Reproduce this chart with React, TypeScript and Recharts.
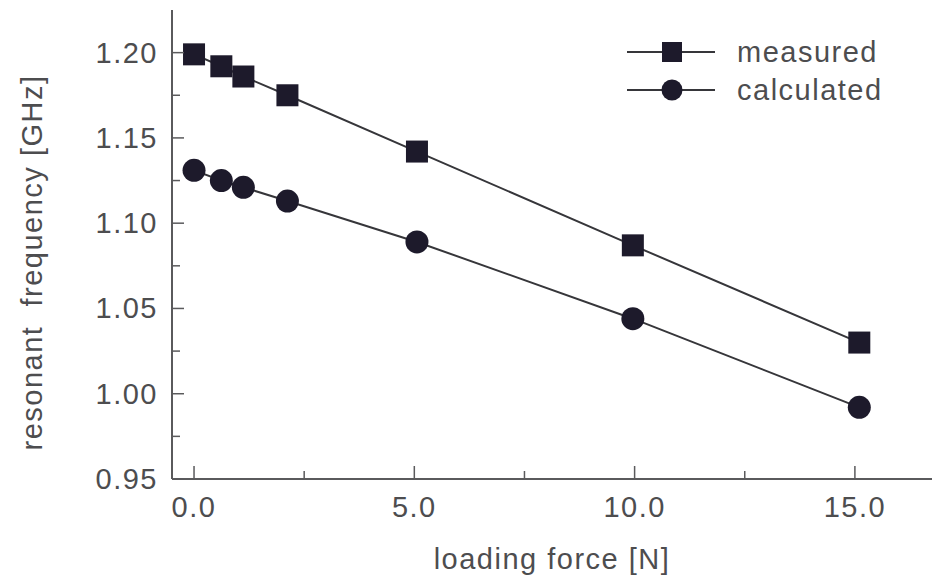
import { Legend, Line, LineChart, XAxis, YAxis } from 'recharts'

const loadingForce = [0, 0.62, 1.12, 2.12, 5.06, 9.96, 15.1]
const measured = [1.199, 1.192, 1.186, 1.175, 1.142, 1.087, 1.03]
const calculated = [1.131, 1.125, 1.121, 1.113, 1.089, 1.044, 0.992]

const forceTicks = [0, 2.5, 5, 7.5, 10, 12.5, 15]
const freqTicks = [0.95, 0.975, 1.0, 1.025, 1.05, 1.075, 1.1, 1.125, 1.15, 1.175, 1.2]

const seriesNames = ['measured', 'calculated']

const FONT = '"Liberation Sans", Arial, sans-serif'
const TEXT = '#4d4d4f'
const AXIS = '#5a5a5c'
const LINE = '#36363a'
const MARK = '#1d1a2b'

const chartData = loadingForce.map((f, i) => ({
  force: f,
  measured: measured[i],
  calculated: calculated[i],
}))

const isMajorX = (v: number) => Math.abs(v % 5) < 1e-6
const isMajorY = (v: number) => Math.abs(Math.round(v * 20) - v * 20) < 1e-6

const textStyle = { fontFamily: FONT, fontSize: 29, fill: TEXT, letterSpacing: 1.5 }

function BottomTick(props: any) {
  const { x, y, payload } = props
  const major = isMajorX(payload.value)
  return (
    <g>
      <line x1={x} x2={x} y1={y} y2={y - (major ? 13 : 8)} stroke={AXIS} strokeWidth={1.5} />
      {major && (
        <text x={x} y={y + 38} textAnchor="middle" {...textStyle}>
          {payload.value.toFixed(1)}
        </text>
      )}
    </g>
  )
}

function TopTick(props: any) {
  const { x, y, payload } = props
  const major = isMajorX(payload.value)
  return <line x1={x} x2={x} y1={y} y2={y + (major ? 13 : 8)} stroke={AXIS} strokeWidth={1.5} />
}

function LeftTick(props: any) {
  const { x, y, payload } = props
  const major = isMajorY(payload.value)
  return (
    <g>
      <line x1={x} x2={x + (major ? 12 : 8)} y1={y} y2={y} stroke={AXIS} strokeWidth={1.5} />
      {major && (
        <text x={x - 14} y={y + 10} textAnchor="end" {...textStyle}>
          {payload.value.toFixed(2)}
        </text>
      )}
    </g>
  )
}

function RightTick(props: any) {
  const { x, y, payload } = props
  const major = isMajorY(payload.value)
  return <line x1={x} x2={x - (major ? 12 : 8)} y1={y} y2={y} stroke={AXIS} strokeWidth={1.5} />
}

function SquareDot(props: any) {
  const { cx, cy } = props
  if (cx == null || cy == null) return null
  return <rect x={cx - 11} y={cy - 11} width={22} height={22} fill={MARK} />
}

function CircleDot(props: any) {
  const { cx, cy } = props
  if (cx == null || cy == null) return null
  return <circle cx={cx} cy={cy} r={11.5} fill={MARK} />
}

// legend drawn in series order, not the alphabetical order recharts hands over
function LegendBox() {
  return (
    <svg width={300} height={90}>
      {seriesNames.map((name, i) => {
        const cy = 22 + i * 38
        return (
          <g key={name}>
            <line x1={7} x2={95} y1={cy} y2={cy} stroke={LINE} strokeWidth={2} />
            {i === 0 ? (
              <rect x={42} y={cy - 10} width={20} height={20} fill={MARK} />
            ) : (
              <circle cx={52} cy={cy} r={10.5} fill={MARK} />
            )}
            <text x={117} y={cy + 10} {...textStyle}>
              {name}
            </text>
          </g>
        )
      })}
    </svg>
  )
}

export default function App() {
  return (
    <div style={{ position: 'absolute', left: 0, top: 0, width: 933, height: 581, background: '#fff' }}>
      <LineChart
        width={933}
        height={581}
        data={chartData}
        margin={{ top: 10, right: 1, bottom: 42, left: 72 }}
      >
        <XAxis
          dataKey="force"
          type="number"
          domain={[-0.5, 16.75]}
          ticks={forceTicks}
          allowDataOverflow
          height={60}
          tickSize={0}
          tickMargin={0}
          tick={<BottomTick />}
          axisLine={{ stroke: AXIS, strokeWidth: 2 }}
          label={{
            value: 'loading force [N]',
            position: 'insideBottom',
            offset: 0,
            dy: 30,
            style: { ...textStyle, textAnchor: 'middle' },
          }}
        />
        <XAxis
          xAxisId="top"
          orientation="top"
          dataKey="force"
          type="number"
          domain={[-0.5, 16.75]}
          ticks={forceTicks}
          allowDataOverflow
          height={0}
          tickSize={0}
          tickMargin={0}
          tick={<TopTick />}
          axisLine={{ stroke: AXIS, strokeWidth: 2 }}
        />
        <YAxis
          type="number"
          domain={[0.95, 1.225]}
          ticks={freqTicks}
          allowDataOverflow
          width={100}
          tickSize={0}
          tickMargin={0}
          tick={<LeftTick />}
          axisLine={{ stroke: AXIS, strokeWidth: 2 }}
          label={{
            value: 'resonant\u00a0 frequency [GHz]',
            angle: -90,
            position: 'insideLeft',
            offset: 0,
            dx: -40,
            dy: 18,
            style: { ...textStyle, textAnchor: 'middle' },
          }}
        />
        <YAxis
          yAxisId="right"
          orientation="right"
          type="number"
          domain={[0.95, 1.225]}
          ticks={freqTicks}
          allowDataOverflow
          width={0}
          tickSize={0}
          tickMargin={0}
          tick={<RightTick />}
          axisLine={{ stroke: AXIS, strokeWidth: 2 }}
        />
        <Legend
          layout="vertical"
          align="center"
          verticalAlign="middle"
          content={<LegendBox />}
          wrapperStyle={{ position: 'absolute', left: 620, top: 30, width: 300, height: 90 }}
        />
        <Line
          dataKey="measured"
          name={seriesNames[0]}
          type="linear"
          stroke={LINE}
          strokeWidth={2}
          dot={<SquareDot />}
          activeDot={false}
          isAnimationActive={false}
        />
        <Line
          dataKey="calculated"
          name={seriesNames[1]}
          type="linear"
          stroke={LINE}
          strokeWidth={2}
          dot={<CircleDot />}
          activeDot={false}
          isAnimationActive={false}
        />
      </LineChart>
    </div>
  )
}
